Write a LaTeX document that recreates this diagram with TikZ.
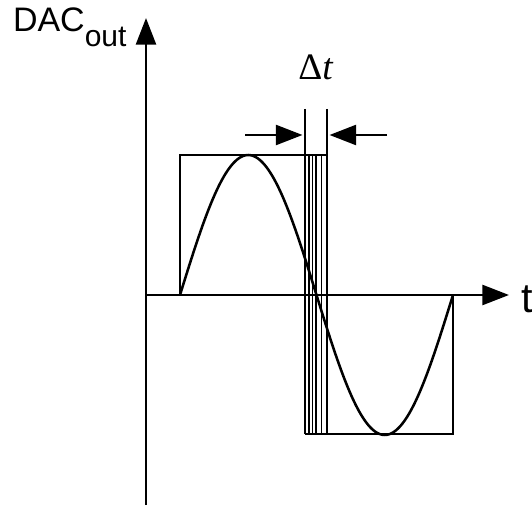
\documentclass[tikz,border=0pt]{standalone}
\usepackage{fontspec}
\setmainfont{Liberation Sans}
\newfontfamily\serifit{Liberation Serif}
\usetikzlibrary{arrows.meta}
\tikzset{
  axis/.style={line width=1.9pt, -{Triangle[length=20pt,width=15pt]}},
  wave/.style={line width=1.9pt},
  thin/.style={line width=1pt},
  dimarrow/.style={line width=1.9pt, -{Triangle[length=20pt,width=15pt]}},
  lbl/.style={inner sep=0pt, outer sep=0pt}
}
\begin{document}
\begin{tikzpicture}[x=0.75pt,y=-0.75pt]
\useasboundingbox (0,0) rectangle (532,509);
% axes
\coordinate (yb) at (146,505);
\coordinate (yt) at (146,18);
\coordinate (xl) at (146,295);
\coordinate (xr) at (509,295);
\draw[axis] (yb) -- (yt);
\draw[axis] (xl) -- (xr);
% labels
\node[lbl, anchor=base west] (dac) at (13,32) {\fontsize{25.5}{27}\selectfont DAC\raisebox{-11pt}{\fontsize{22.5}{24}\selectfont out}};
\node[lbl, anchor=base west] (tl) at (521,313) {\fontsize{31}{33}\selectfont t};
\node[lbl, anchor=base] (dt) at (316,80) {\fontsize{28}{30}\selectfont\serifit Δ\textit{t}};
% square wave
\coordinate (s0) at (180,295);
\coordinate (s1) at (180,155);
\coordinate (s2) at (327,155);
\coordinate (b0) at (305,434);
\coordinate (b1) at (453,434);
\coordinate (b2) at (453,295);
\draw[wave] (s0) -- (s1) -- (s2);
\draw[wave] (b0) -- (b1) -- (b2);
% transition lines
\coordinate (l1t) at (305,109); \coordinate (l1b) at (305,434);
\coordinate (l6t) at (327,109); \coordinate (l6b) at (327,434);
\draw[thin] (l1t) -- (l1b);
\draw[thin] (l6t) -- (l6b);
\foreach \xx in {309,312.5,321.5} {
  \draw[thin] (\xx,155) -- (\xx,434);
}
\draw[line width=1.5pt] (316,155) -- (316,434);
% sine
\draw[wave] plot[domain=180:453, samples=120, smooth] (\x, {295-140*sin((\x-180)/136.5*180)});
% delta t arrows
\coordinate (al) at (245,135);
\coordinate (ar) at (387,135);
\coordinate (alt) at (302.5,135);
\coordinate (art) at (329.5,135);
\draw[dimarrow] (al) -- (alt);
\draw[dimarrow] (ar) -- (art);
\end{tikzpicture}
\end{document}
